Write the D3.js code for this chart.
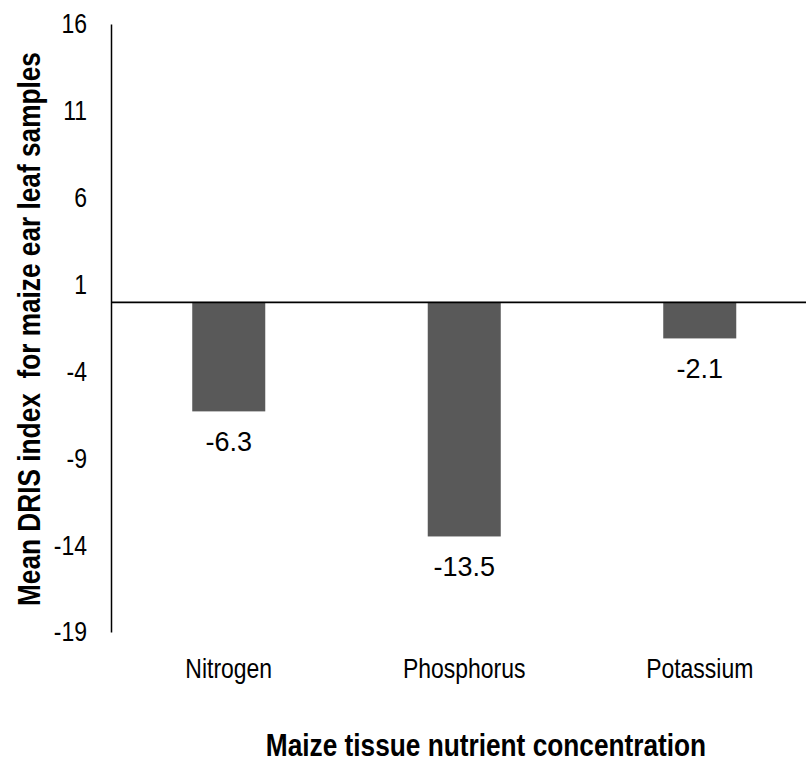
<!DOCTYPE html>
<html>
<head>
<meta charset="utf-8">
<script src="https://cdn.jsdelivr.net/npm/d3@7"></script>
<style>
  body { margin: 0; background: #fff; }
  text { font-family: "Liberation Sans", Arial, sans-serif; }
</style>
</head>
<body>
<div id="viz"></div>
<script>
const nutrients = ["Nitrogen", "Phosphorus", "Potassium"]
const driIndex = [-6.3, -13.5, -2.1]
const yTicks = [16, 11, 6, 1, -4, -9, -14, -19]

// no Arial Narrow here, so squeeze regular glyphs to ~82% width
function narrow (sel) {
    sel.each(function () {
        const len = this.getComputedTextLength()
        d3.select(this)
          .attr("textLength", len * 0.82)
          .attr("lengthAdjust", "spacingAndGlyphs")
    })
}

function barChart () {
    const width = 806
    const height = 768

    const canvas = d3.select("#viz")
                     .append("svg")
                     .attr("width", width)
                     .attr("height", height)

    // plot area, right edge runs past the svg like in the original
    const xScale = d3.scaleBand()
                        .domain(nutrients)
                        .range([111, 817.5])
                        .paddingInner(0.69)
                        .paddingOuter(0.345)

    const yScale = d3.scaleLinear()
                        .domain([-19, 16])
                        .range([632, 24])

    // bars hang down from zero
    canvas.append("g")
        .selectAll("rect")
        .data(driIndex)
        .join("rect")
        .attr("x", (d, i) => xScale(nutrients[i]))
        .attr("y", yScale(0))
        .attr("width", xScale.bandwidth())
        .attr("height", d => yScale(d) - yScale(0))
        .attr("fill", "#595959")

    // value labels under each bar
    canvas.append("g")
        .selectAll("text")
        .data(driIndex)
        .join("text")
        .attr("x", (d, i) => xScale(nutrients[i]) + xScale.bandwidth() / 2)
        .attr("y", d => yScale(d) + 40)
        .attr("text-anchor", "middle")
        .style("font-size", "27px")
        .attr("fill", "#000")
        .text(d => d.toFixed(1))

    // y axis, no tick marks, plain hyphen minus
    const yAxis = d3.axisLeft(yScale)
                    .tickValues(yTicks)
                    .tickSize(0)
                    .tickPadding(24)
                    .tickFormat(d => String(d))

    const yG = canvas.append("g")
        .attr("transform", "translate(111,0)")
        .call(yAxis)
    yG.attr("font-family", null).attr("font-size", null)
    yG.select(".domain").attr("stroke", "#000").attr("stroke-width", 1.5)
    yG.selectAll("text")
        .style("font-size", "28px")
        .attr("fill", "#000")
        .call(narrow)

    // zero line
    const xAxis = d3.axisBottom(xScale).tickSize(0).tickFormat("")
    const xG = canvas.append("g")
        .attr("transform", `translate(0,${yScale(0)})`)
        .call(xAxis)
    xG.select(".domain").attr("stroke", "#000").attr("stroke-width", 1.8)

    // category labels below the plot
    canvas.append("g")
        .selectAll("text")
        .data(nutrients)
        .join("text")
        .attr("x", d => xScale(d) + xScale.bandwidth() / 2)
        .attr("y", 678)
        .attr("text-anchor", "middle")
        .style("font-size", "28px")
        .attr("fill", "#000")
        .text(d => d)
        .call(narrow)

    canvas.append("text")
        .attr("x", 486)
        .attr("y", 756)
        .attr("text-anchor", "middle")
        .style("font-size", "32px")
        .style("font-weight", "bold")
        .text("Maize tissue nutrient concentration")
        .call(narrow)

    // rotated title squeezed with a scale so its box stays honest
    canvas.append("text")
        .attr("transform", "translate(40,329) rotate(-90) scale(0.82,1)")
        .attr("text-anchor", "middle")
        .style("font-size", "32px")
        .style("font-weight", "bold")
        .style("white-space", "pre")
        .text("Mean DRIS index  for maize ear leaf samples")
}

barChart()
</script>
</body>
</html>
